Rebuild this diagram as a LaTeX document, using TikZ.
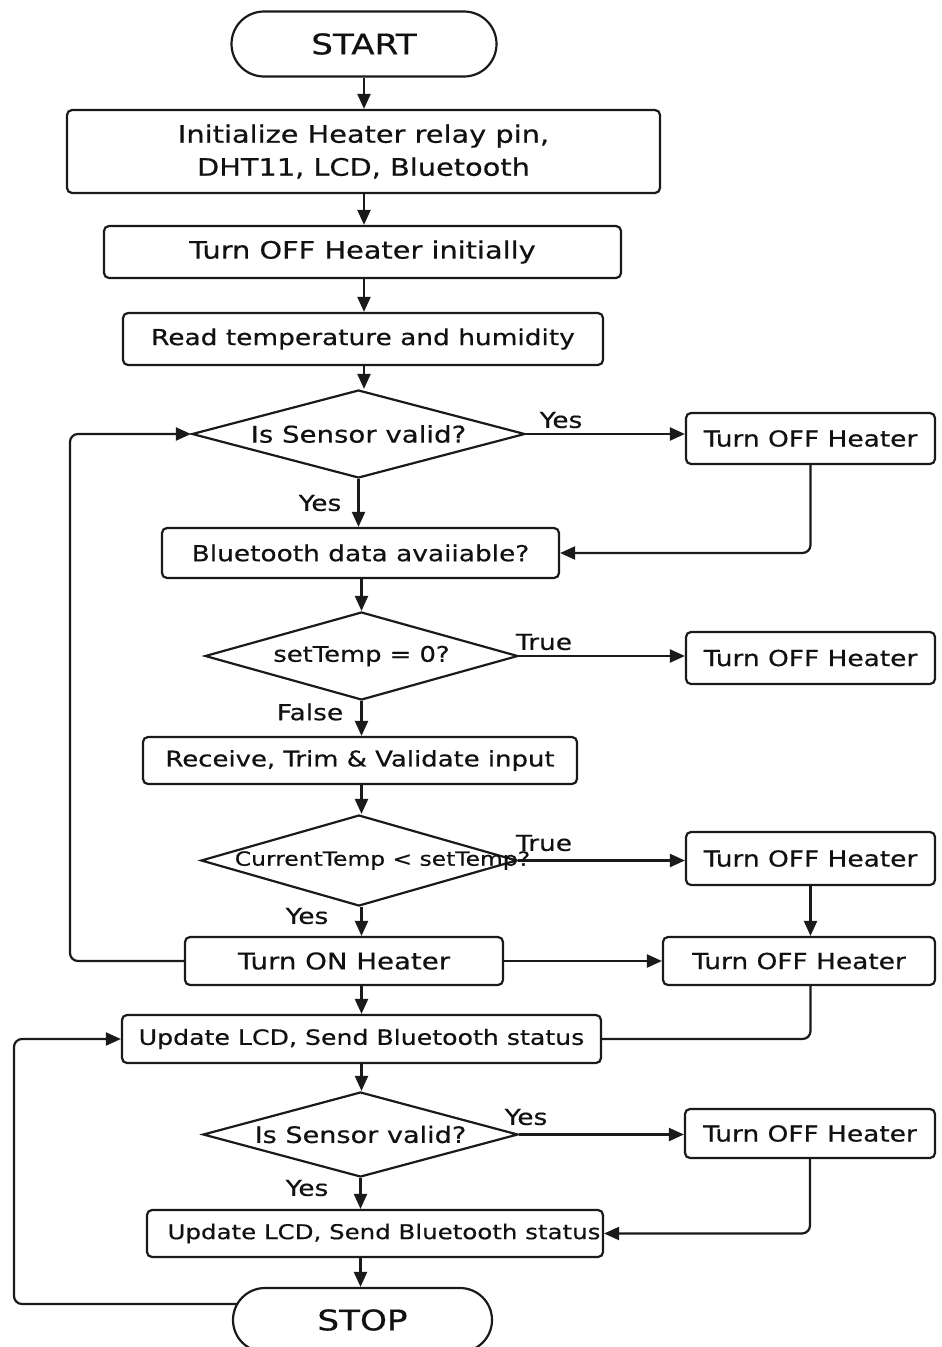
\documentclass[tikz,border=0pt]{standalone}
\usepackage{fontspec}
\setmainfont[FakeStretch=1.2,FakeBold=0.5]{DejaVu Sans}
\usetikzlibrary{shapes.geometric,shapes.misc,arrows.meta,backgrounds}
\definecolor{linec}{HTML}{1A1A1A}
\definecolor{txtc}{HTML}{111111}
\begin{document}
\begin{tikzpicture}[x=1pt,y=-1pt,
  every node/.style={text=txtc},
  fs/.style={font=\fontsize{#1}{#1}\selectfont},
  box/.style={draw=linec, line width=2.2pt, fill=white, rounded corners=5pt, inner sep=0pt, align=center, fs=22},
  term/.style={draw=linec, line width=2.2pt, fill=white, rounded rectangle, inner sep=0pt, fs=28.5},
  dia/.style={draw=linec, line width=2.2pt, fill=white, diamond, inner sep=0pt, fs=22},
  arr/.style={draw=linec, line width=2.2pt, -{Triangle[length=15pt,width=13pt]}},
  conn/.style={draw=linec, line width=2.2pt},
  lbl/.style={inner sep=0pt, fs=22}]
\useasboundingbox (0,0) rectangle (942,1347);

% nodes
\node[term, minimum width=265pt, minimum height=65pt] (start) at (364,44) {START};
\node[box, minimum width=593pt, minimum height=83pt, font=\fontsize{24}{33}\selectfont] (init) at (363.5,151.5) {Initialize Heater relay pin,\\DHT11, LCD, Bluetooth};
\node[box, minimum width=517pt, minimum height=52pt, fs=24] (off0) at (362.5,252) {Turn OFF Heater initially};
\node[box, minimum width=480pt, minimum height=52pt] (read) at (363,339) {Read temperature and humidity};
\node[dia, minimum width=333pt, minimum height=88pt, fs=23] (d1) at (358.5,434) {\makebox[0pt]{Is Sensor valid?}};
\node[box, minimum width=249pt, minimum height=51pt] (r1) at (810.5,438.5) {Turn OFF Heater};
\node[box, minimum width=397pt, minimum height=50pt] (bt) at (360.5,553) {Bluetooth data avaiiable?};
\node[dia, minimum width=313pt, minimum height=88pt, fs=21.5] (d2) at (361.5,656) {\makebox[0pt]{setTemp = 0?}};
\node[box, minimum width=249pt, minimum height=52pt] (r2) at (810.5,658) {Turn OFF Heater};
\node[box, minimum width=434pt, minimum height=47pt, fs=21.6] (recv) at (360,760.5) {Receive, Trim \& Validate input};
\node[dia, minimum width=316pt, minimum height=91pt, fs=19.5] (d3) at (359,860.5) {\makebox[0pt]{\hspace*{47pt}CurrentTemp < setTemp?}};
\node[box, minimum width=249pt, minimum height=53pt] (r3) at (810.5,858.5) {Turn OFF Heater};
\node[box, minimum width=318pt, minimum height=48pt, fs=23] (on) at (344,961) {Turn ON Heater};
\node[box, minimum width=272pt, minimum height=48pt] (r4) at (799,961) {Turn OFF Heater};
\node[box, minimum width=479pt, minimum height=48pt, fs=21] (upd1) at (361.5,1039) {Update LCD, Send Bluetooth status};
\node[dia, minimum width=315pt, minimum height=85pt, fs=22.6] (d4) at (360.5,1134.5) {\makebox[0pt]{Is Sensor valid?}};
\node[box, minimum width=250pt, minimum height=49pt] (r5) at (810,1133.5) {Turn OFF Heater};
\node[box, minimum width=456pt, minimum height=47pt, fs=20.4] (upd2) at (375,1233.5) {\makebox[0pt]{\hspace*{18pt}Update LCD, Send Bluetooth status}};
\node[term, minimum width=259pt, minimum height=64pt] (stop) at (362.5,1320) {STOP};

% labels
\node[lbl] (l1) at (561,420) {Yes};
\node[lbl] (l2) at (320,503) {Yes};
\node[lbl] (l3) at (544,642) {True};
\node[lbl] (l4) at (310,712) {False};
\node[lbl] (l5) at (544,843) {True};
\node[lbl] (l6) at (307,916) {Yes};
\node[lbl] (l7) at (526,1117) {Yes};
\node[lbl] (l8) at (307,1188) {Yes};

\coordinate (loopa) at (70,434);
\coordinate (loopb) at (14,1304);

% connectors
\begin{scope}[on background layer]
\fill[white] (0,0) rectangle (942,1347);
\draw[arr] (start.south) -- (start.south |- init.north);
\draw[arr] (start.south |- init.south) -- (start.south |- off0.north);
\draw[arr] (start.south |- off0.south) -- (start.south |- read.north);
\draw[arr] (start.south |- read.south) -- (start.south |- d1.north);
\draw[arr] (d1.east) -- (d1.east -| r1.west);
\draw[arr] (d1.south) -- (d1.south |- bt.north);
\draw[arr, rounded corners=8pt] (r1.south) |- (bt.east);
\draw[arr] (d2.north |- bt.south) -- (d2.north);
\draw[arr] (d2.east) -- (d2.east -| r2.west);
\draw[arr] (d2.south) -- (d2.south |- recv.north);
\draw[arr] (d2.south |- recv.south) -- (d2.south |- d3.north);
\draw[arr] (d3.east) -- (d3.east -| r3.west);
\draw[arr] (d2.south |- d3.south) -- (d2.south |- on.north);
\draw[arr] (r3.south) -- (r3.south |- r4.north);
\draw[arr] (on.east) -- (on.east -| r4.west);
\draw[conn, rounded corners=8pt] (r3.south |- r4.south) |- (upd1.east);
\draw[arr, rounded corners=8pt] (on.west) -| (loopa) -- (d1.west);
\draw[arr] (d2.south |- on.south) -- (d2.south |- upd1.north);
\draw[arr] (d2.south |- upd1.south) -- (d2.south |- d4.north);
\draw[arr] (d4.east) -- (d4.east -| r5.west);
\draw[arr] (d4.south) -- (d4.south |- upd2.north);
\draw[arr, rounded corners=8pt] (r5.south) |- (upd2.east);
\draw[arr] (d4.south |- upd2.south) -- (d4.south |- stop.north);
\draw[arr, rounded corners=8pt] (stop.center |- loopb) -- (loopb) |- (upd1.west);
\end{scope}
\end{tikzpicture}
\end{document}
